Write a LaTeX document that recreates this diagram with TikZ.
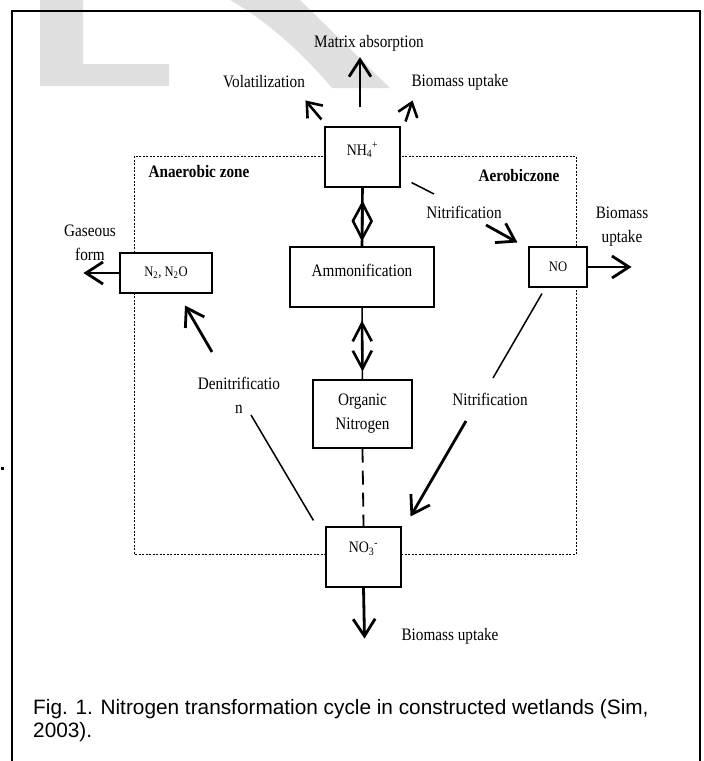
\documentclass[tikz,border=0pt]{standalone}
\usepackage{fontspec}
\setmainfont{Liberation Serif}[FakeStretch=0.87]
\newfontfamily\capfont{Liberation Sans}
\usetikzlibrary{arrows.meta,calc}
\begin{document}
\begin{tikzpicture}[x=1pt,y=-1pt,
  box/.style={draw,line width=1.1pt,fill=white,inner sep=0pt},
  lab/.style={font=\fontsize{17.5}{24}\selectfont,inner sep=0pt,align=center},
  zonelab/.style={font=\fontsize{17.5}{24}\selectfont\bfseries,inner sep=0pt},
  smf/.style={font=\fontsize{14.5}{16}\selectfont},
  mdf/.style={font=\fontsize{16}{18}\selectfont},
  thk/.style={line width=2.6pt},
  thn/.style={line width=1.5pt},
  arr/.style={line width=2.8pt,-{Straight Barb[length=17pt,width=22pt]}},
  sarr/.style={line width=2.6pt,-{Straight Barb[length=13pt,width=20pt]}},
  darr/.style={line width=2.6pt,{Straight Barb[length=18pt,width=19pt]}-{Straight Barb[length=18pt,width=19pt]}},
]
\useasboundingbox (0,0) rectangle (704,761);
% watermark
\fill[gray!25] (40,0) -- (83,0) -- (83,64) -- (169,64) -- (169,86) -- (40,86) -- cycle;
\fill[gray!25] (230,0) -- (300,0) -- (390,88) -- (332,88) .. controls (300,50) and (265,20) .. cycle;
% frame
\draw[line width=1.5pt] (12,761) -- (12,11) -- (700,11) -- (700,761);
\fill (1,467) rectangle (4,470);
% zones
\draw[line width=0.9pt,dash pattern=on 2pt off 1.5pt] (134,156) rectangle (576,554);
% labels
\node[lab] (mat) at (369,43) {Matrix absorption};
\node[lab] (vol) at (264,82) {Volatilization};
\node[lab] (bm1) at (460,82) {Biomass uptake};
\node[zonelab] (anz) at (199,172) {Anaerobic zone};
\node[zonelab] (aez) at (519,176) {Aerobiczone};
\node[lab] (gas) at (90,243) {Gaseous\\form};
\node[lab] (bm2) at (622,227) {Biomass\\uptake};
\node[lab] (nit1) at (464,212) {Nitrification};
\node[lab] (nit2) at (490,399) {Nitrification};
\node[lab] (den) at (239,395) {Denitrificatio\\n};
\node[lab] (bm3) at (450,636) {Biomass uptake};
% boxes
\node[box,mdf,minimum width=75pt,minimum height=60pt] (nh4) at (362.5,157) {\raisebox{7pt}[\height][\depth]{NH\textsubscript{4}\textsuperscript{+}}};
\node[box,lab,minimum width=144pt,minimum height=60pt] (amm) at (362,277) {\raisebox{7pt}[\height][\depth]{Ammonification}};
\node[box,lab,minimum width=99pt,minimum height=68pt] (org) at (362.5,414) {Organic\\Nitrogen};
\node[box,mdf,minimum width=75pt,minimum height=60pt] (no3) at (363.5,557) {\raisebox{8pt}[\height][\depth]{NO\textsubscript{3}\textsuperscript{-}}};
\node[box,smf,minimum width=92pt,minimum height=40pt] (n2) at (166,273) {N\textsubscript{2}, N\textsubscript{2}O};
\node[box,smf,minimum width=58pt,minimum height=40pt] (no) at (558,267) {NO};
% top arrows
\draw[arr] ($(nh4.north)+(-2.5,-19)$) -- ($(mat.south)+(-9,6)$);
\draw[sarr] ($(nh4.north west)+(-3,-7)$) -- ($(nh4.north west)+(-19,-26)$);
\draw[sarr] ($(nh4.north east)+(5,-5)$) -- ($(nh4.north east)+(12,-26)$);
% central column
\draw[thk] (nh4.south) -- (amm.north);
\draw[darr] ($(nh4.south)+(0,13)$) -- ($(amm.north)+(0,-5)$);
\draw[thn] (amm.south) -- (org.north);
\draw[darr] ($(amm.south)+(0,13)$) -- ($(org.north)+(0,-8)$);
\draw[line width=1.8pt,dash pattern=on 14pt off 8pt] (org.south) -- (no3.north);
\draw[arr] (no3.south) -- ($(no3.south)+(1,51)$);
% side arrows
\draw[arr] (n2.west) -- +(-36,0);
\draw[arr] (no.east) -- +(44,0);
% nitrification NH4 -> NO
\draw[thn] ($(nh4.south east)+(11,-5)$) -- ($(nit1.center)+(-30,-18)$);
\draw[arr] ($(nit1.center)+(22,13)$) -- ($(no.north west)+(-11,-4)$);
% nitrification NO -> NO3
\draw[thn] ($(no.south)+(-16,6)$) -- ($(nit2.center)+(3,-21)$);
\draw[arr] ($(nit2.center)+(-24,22)$) -- ($(no3.north east)+(9,-10)$);
% denitrification NO3 -> N2
\draw[thn] ($(no3.north west)+(-12,-6)$) -- ($(den.center)+(12,20)$);
\draw[arr] ($(den.center)+(-27,-43)$) -- ($(n2.south)+(19,12)$);
% caption
\node[anchor=west,font=\capfont\fontsize{20.8}{23}\selectfont,align=left,inner sep=0pt] (cap) at (33,720.5) {Fig. 1. Nitrogen transformation cycle in constructed wetlands (Sim,\\2003).};
\end{tikzpicture}
\end{document}
